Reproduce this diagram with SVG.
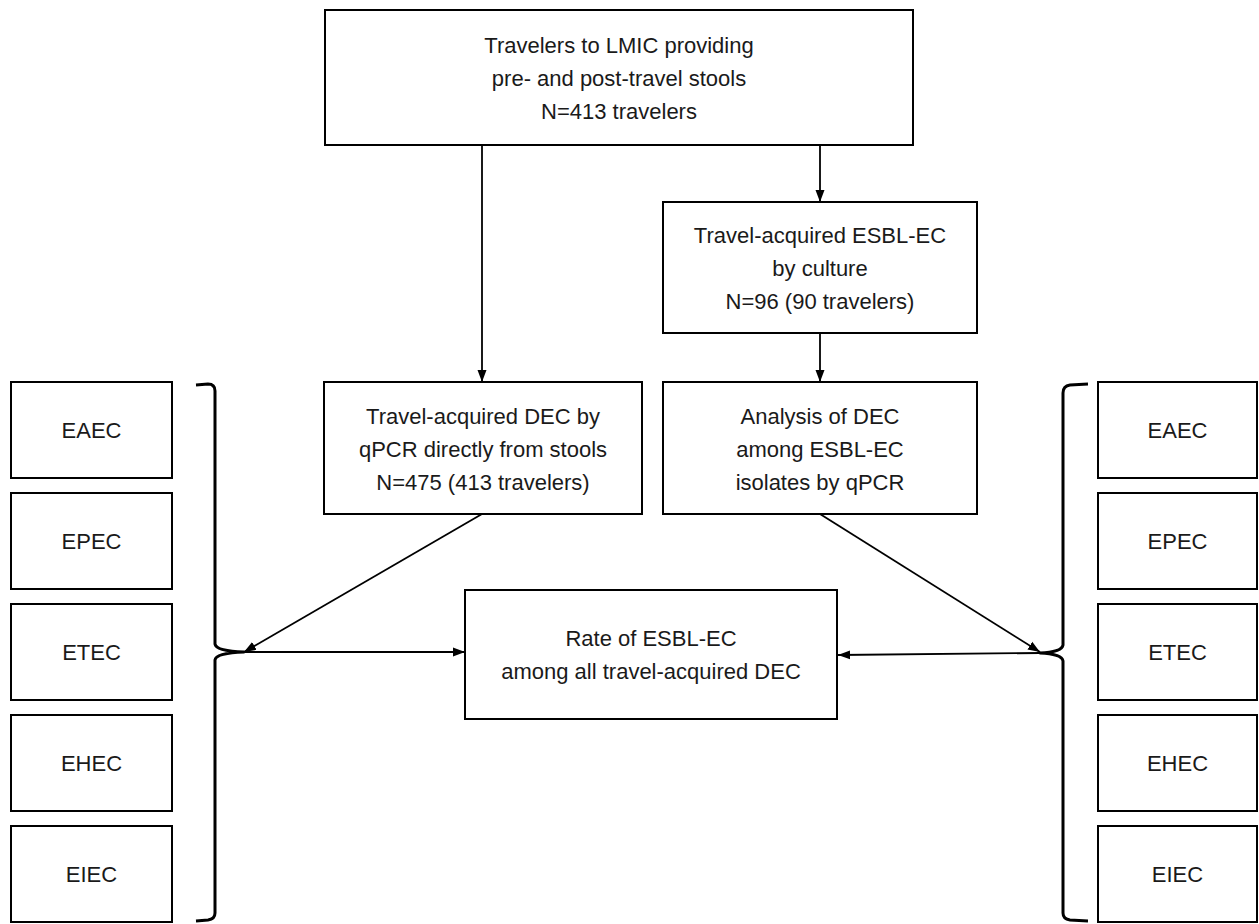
<svg xmlns="http://www.w3.org/2000/svg" width="1259" height="924" viewBox="0 0 1259 924">
<style>
.box{fill:#fff;stroke:#000;stroke-width:2}
.t{font-family:"Liberation Sans",Arial,sans-serif;font-size:22px;fill:#1a1a1a;text-anchor:middle}
.c{stroke:#000;stroke-width:1.8;fill:none}
.br{stroke:#000;stroke-width:3;fill:none;stroke-linejoin:round}
</style>
<defs>
<marker id="ah" viewBox="0 0 12 10" refX="12" refY="5" markerWidth="12" markerHeight="10" markerUnits="userSpaceOnUse" orient="auto">
<path d="M0,0.5 L12,5 L0,9.5 z" fill="#000"/>
</marker>
</defs>
<rect width="1259" height="924" fill="#fff"/>
<g id="connectors">
<line class="c" x1="482" y1="145" x2="482" y2="382" marker-end="url(#ah)"/>
<line class="c" x1="820" y1="145" x2="820" y2="202" marker-end="url(#ah)"/>
<line class="c" x1="820" y1="333" x2="820" y2="382" marker-end="url(#ah)"/>
<line class="c" x1="482" y1="514" x2="244" y2="652" marker-end="url(#ah)"/>
<line class="c" x1="820" y1="514" x2="1040" y2="652" marker-end="url(#ah)"/>
<line class="c" x1="244" y1="652" x2="465" y2="652" marker-end="url(#ah)"/>
<line class="c" x1="1040" y1="653" x2="838" y2="655" marker-end="url(#ah)"/>
</g>
<g id="braces">
<path class="br" d="M196,385 L208,384 Q215,384 215,391 L215,644 Q216,651 244,652 Q216,653 215,660 L215,913 Q215,919 208,920 L196,921"/>
<path class="br" d="M1088,384 L1070,385 Q1063,386 1063,393 L1063,645 Q1062,652 1040,653 Q1062,654 1063,661 L1063,913 Q1063,919 1070,920 L1088,921"/>
</g>
<g id="n-top">
<rect class="box" x="325" y="10" width="588" height="135"/>
<text class="t" x="619" y="53">Travelers to LMIC providing</text>
<text class="t" x="619" y="86">pre- and post-travel stools</text>
<text class="t" x="619" y="119">N=413 travelers</text>
</g>
<g id="n-esbl">
<rect class="box" x="663" y="202" width="314" height="131"/>
<text class="t" x="820" y="243">Travel-acquired ESBL-EC</text>
<text class="t" x="820" y="276">by culture</text>
<text class="t" x="820" y="309">N=96 (90 travelers)</text>
</g>
<g id="n-dec">
<rect class="box" x="324" y="382" width="318" height="132"/>
<text class="t" x="483" y="424">Travel-acquired DEC by</text>
<text class="t" x="483" y="457">qPCR directly from stools</text>
<text class="t" x="483" y="490">N=475 (413 travelers)</text>
</g>
<g id="n-analysis">
<rect class="box" x="663" y="382" width="314" height="132"/>
<text class="t" x="820" y="424">Analysis of DEC</text>
<text class="t" x="820" y="457">among ESBL-EC</text>
<text class="t" x="820" y="490">isolates by qPCR</text>
</g>
<g id="n-rate">
<rect class="box" x="465" y="590" width="372" height="129"/>
<text class="t" x="651" y="646">Rate of ESBL-EC</text>
<text class="t" x="651" y="679">among all travel-acquired DEC</text>
</g>
<g id="l-eaec"><rect class="box" x="11" y="382" width="161" height="96"/><text class="t" x="91.5" y="438">EAEC</text></g>
<g id="l-epec"><rect class="box" x="11" y="493" width="161" height="96"/><text class="t" x="91.5" y="549">EPEC</text></g>
<g id="l-etec"><rect class="box" x="11" y="604" width="161" height="96"/><text class="t" x="91.5" y="660">ETEC</text></g>
<g id="l-ehec"><rect class="box" x="11" y="715" width="161" height="96"/><text class="t" x="91.5" y="771">EHEC</text></g>
<g id="l-eiec"><rect class="box" x="11" y="826" width="161" height="96"/><text class="t" x="91.5" y="882">EIEC</text></g>
<g id="r-eaec"><rect class="box" x="1098" y="382" width="159" height="96"/><text class="t" x="1177.5" y="438">EAEC</text></g>
<g id="r-epec"><rect class="box" x="1098" y="493" width="159" height="96"/><text class="t" x="1177.5" y="549">EPEC</text></g>
<g id="r-etec"><rect class="box" x="1098" y="604" width="159" height="96"/><text class="t" x="1177.5" y="660">ETEC</text></g>
<g id="r-ehec"><rect class="box" x="1098" y="715" width="159" height="96"/><text class="t" x="1177.5" y="771">EHEC</text></g>
<g id="r-eiec"><rect class="box" x="1098" y="826" width="159" height="96"/><text class="t" x="1177.5" y="882">EIEC</text></g>
</svg>
